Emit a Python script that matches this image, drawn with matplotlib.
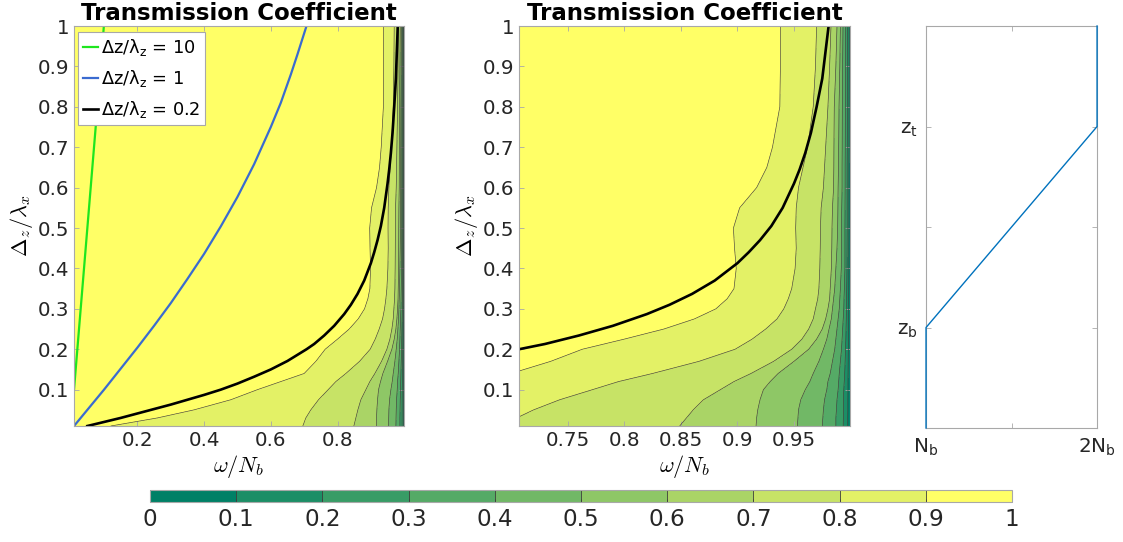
import matplotlib.pyplot as plt
import numpy as np
from matplotlib.colors import ListedColormap

plt.rcParams['font.family'] = ['DejaVu Sans']
plt.rcParams['mathtext.fontset'] = 'cm'

# transmission coefficient, read off the picture as the omega/N_b position
# where each contour level crosses a given Delta_z/lambda_x row
rows_y = [0.01, 0.03, 0.05, 0.075, 0.1, 0.12, 0.14, 0.17, 0.2, 0.225, 0.25, 0.275, 0.3, 0.325,
          0.35, 0.4, 0.45, 0.5, 0.55, 0.6, 0.65, 0.7, 0.8, 0.9, 1.0]
t90 = [0.12, 0.26, 0.37, 0.48, 0.56, 0.63, 0.70, 0.735, 0.763, 0.80, 0.835, 0.862, 0.881, 0.891,
       0.897, 0.899, 0.8975, 0.8965, 0.902, 0.917, 0.926, 0.931, 0.9375, 0.938, 0.938]
t80 = [0.696, 0.705, 0.72, 0.743, 0.772, 0.795, 0.825, 0.866, 0.898, 0.913, 0.925, 0.935, 0.941, 0.945,
       0.948, 0.951, 0.952, 0.9515, 0.952, 0.954, 0.958, 0.962, 0.967, 0.969, 0.970]
t70 = [0.849, 0.855, 0.861, 0.870, 0.885, 0.897, 0.912, 0.932, 0.948, 0.957, 0.963, 0.967, 0.969, 0.971,
       0.972, 0.9728, 0.9732, 0.9734, 0.974, 0.976, 0.977, 0.978, 0.980, 0.9815, 0.9827]
t60 = [0.9165, 0.917, 0.918, 0.92, 0.923, 0.929, 0.936, 0.950, 0.963, 0.970, 0.975, 0.978, 0.980, 0.9815,
       0.982, 0.983, 0.9834, 0.9836, 0.984, 0.985, 0.9852, 0.9853, 0.9856, 0.987, 0.988]
t50 = [0.953, 0.9535, 0.954, 0.956, 0.960, 0.964, 0.967, 0.972, 0.976, 0.979, 0.981, 0.983, 0.984, 0.985,
       0.986, 0.987, 0.988, 0.9886, 0.9888, 0.989, 0.9893, 0.9895, 0.9898, 0.9905, 0.991]
t40 = [0.975, 0.9755, 0.976, 0.977, 0.979, 0.980, 0.982, 0.984, 0.986, 0.987, 0.988, 0.989, 0.990, 0.9905,
       0.991, 0.9918, 0.9919, 0.992, 0.9922, 0.9925, 0.9925, 0.9926, 0.9927, 0.993, 0.9933]
t30 = [0.987, 0.987, 0.9875, 0.988, 0.989, 0.9895, 0.990, 0.991, 0.992, 0.9925, 0.993, 0.9935, 0.994, 0.9942,
       0.9945, 0.995, 0.995, 0.995, 0.9951, 0.9952, 0.9952, 0.9953, 0.9954, 0.9955, 0.9956]
t20 = [0.9935, 0.9936, 0.9937, 0.9938, 0.994, 0.9944, 0.9948, 0.9952, 0.9955, 0.9958, 0.996, 0.9962, 0.9963,
       0.9965, 0.9966, 0.9968, 0.9969, 0.997, 0.997, 0.997, 0.997, 0.9971, 0.9972, 0.9973, 0.9974]
t10 = [0.9975, 0.9975, 0.9976, 0.9976, 0.9977, 0.9977, 0.9978, 0.9979, 0.998, 0.9981, 0.9982, 0.9982, 0.9983,
       0.9983, 0.9984, 0.9985, 0.9985, 0.9986, 0.9986, 0.9986, 0.9986, 0.9987, 0.9987, 0.9988, 0.9988]
edge_lo, edge_hi = 0.0, 1.0
node_T = [1.0, 0.9, 0.8, 0.7, 0.6, 0.5, 0.4, 0.3, 0.2, 0.1, 0.0]
levels = [0, 0.1, 0.2, 0.3, 0.4, 0.5, 0.6, 0.7, 0.8, 0.9, 1.0]

# constant Delta z / lambda_z curves
green_w = [0.01, 0.02, 0.03, 0.04, 0.05, 0.06, 0.07, 0.08, 0.09, 0.0995]
green_y = [0.10, 0.20, 0.30, 0.40, 0.50, 0.60, 0.70, 0.80, 0.90, 1.00]
blue_w = [0.01, 0.05, 0.1, 0.15, 0.2, 0.25, 0.3, 0.35, 0.4, 0.45, 0.5, 0.55, 0.6, 0.63, 0.66, 0.68, 0.707]
blue_y = [0.01, 0.05, 0.10, 0.152, 0.204, 0.258, 0.314, 0.374, 0.436, 0.504, 0.577, 0.658, 0.75, 0.81,
          0.88, 0.93, 1.0]
black_w = [0.05, 0.1, 0.15, 0.2, 0.25, 0.3, 0.35, 0.4, 0.45, 0.5, 0.55, 0.6, 0.65, 0.7071, 0.73, 0.76,
           0.79, 0.82, 0.84, 0.86, 0.88, 0.9, 0.91, 0.92, 0.93, 0.94, 0.95, 0.955, 0.96, 0.965, 0.97,
           0.975, 0.9806]
black_y = [0.01, 0.02, 0.03, 0.041, 0.052, 0.063, 0.075, 0.087, 0.1, 0.115, 0.132, 0.15, 0.171, 0.2,
           0.213, 0.234, 0.258, 0.287, 0.31, 0.337, 0.37, 0.413, 0.44, 0.47, 0.505, 0.55, 0.61, 0.645,
           0.686, 0.736, 0.8, 0.87, 1.0]

# stratification profile
prof_N = [1, 1, 2, 2]
prof_z = [0, 1, 3, 4]

cols = [np.full(len(rows_y), edge_lo), t90, t80, t70, t60, t50, t40, t30, t20, t10,
        np.full(len(rows_y), edge_hi)]
X = np.column_stack(cols)
Y = np.tile(np.array(rows_y)[:, None], (1, X.shape[1]))
Z = np.tile(np.array(node_T), (len(rows_y), 1))

cmap = ListedColormap(plt.get_cmap('summer')(np.linspace(0, 1, 10)))
grey = '#a8a8a8'
txt = '#262626'

fig = plt.figure(figsize=(11.23, 5.42), dpi=100)
ax1 = fig.add_axes([0.0659, 0.214, 0.2939, 0.738])
ax2 = fig.add_axes([0.4622, 0.214, 0.2947, 0.738])
ax3 = fig.add_axes([0.8246, 0.2103, 0.1523, 0.7417])
cax = fig.add_axes([0.1336, 0.0738, 0.7676, 0.0221])


def style(ax):
    for s in ax.spines.values():
        s.set_color(grey)
        s.set_linewidth(0.8)
    ax.tick_params(direction='in', length=3.5, width=0.6, color=grey, top=True, right=True,
                   labelsize=14.3, labelcolor=txt)


for ax in (ax1, ax2):
    cf = ax.contourf(X, Y, Z, levels=levels, cmap=cmap, vmin=0, vmax=1)
    ax.contour(X, Y, Z, levels=levels[1:-1], colors='#3c3c3c', linewidths=0.45)
    ax.plot(black_w, black_y, color='k', lw=1.9, label=r'Δz/$\mathregular{λ_z}$ = 0.2')
    ax.set_ylim(0.01, 1)
    ax.set_yticks([0.1, 0.2, 0.3, 0.4, 0.5, 0.6, 0.7, 0.8, 0.9, 1.0])
    ax.set_yticklabels(['0.1', '0.2', '0.3', '0.4', '0.5', '0.6', '0.7', '0.8', '0.9', '1'])
    ax.set_title('Transmission Coefficient', fontsize=16.5, fontweight='bold', pad=4)
    ax.set_xlabel(r'$\omega/N_b$', fontsize=16, labelpad=2)
    ax.set_ylabel(r'$\Delta_z/\lambda_x$', fontsize=16, labelpad=2)
    style(ax)

g, = ax1.plot(green_w, green_y, color='#1ee61e', lw=1.6, label=r'Δz/$\mathregular{λ_z}$ = 10')
b, = ax1.plot(blue_w, blue_y, color='#3a6bd0', lw=1.6, label=r'Δz/$\mathregular{λ_z}$ = 1')
k = ax1.get_lines()[0]
ax1.set_xlim(0.01, 0.9995)
ax1.set_xticks([0.2, 0.4, 0.6, 0.8])
ax1.set_xticklabels(['0.2', '0.4', '0.6', '0.8'])
leg = ax1.legend(handles=[g, b, k], loc='upper left', bbox_to_anchor=(0.012, 0.985), borderaxespad=0,
                 fontsize=12.8, handlelength=0.8, handletextpad=0.2, borderpad=0.3, labelspacing=0.55,
                 fancybox=False, framealpha=1)
leg.get_frame().set_edgecolor(grey)
leg.get_frame().set_linewidth(0.8)

ax2.set_xlim(0.7071, 0.9995)
ax2.set_xticks([0.75, 0.8, 0.85, 0.9, 0.95])
ax2.set_xticklabels(['0.75', '0.8', '0.85', '0.9', '0.95'])

ax3.plot(prof_N, prof_z, color='#0072BD', lw=1.0, clip_on=False, zorder=5)
ax3.set_xlim(1, 2)
ax3.set_ylim(0, 4)
ax3.set_xticks([1, 1.5, 2])
ax3.set_xticklabels([r'$\mathregular{N_b}$', '', r'$\mathregular{2N_b}$'])
ax3.set_yticks([1, 2, 3])
ax3.set_yticklabels([r'$\mathregular{z_b}$', '', r'$\mathregular{z_t}$'])
style(ax3)
ax3.tick_params(pad=6)

cb = fig.colorbar(cf, cax=cax, orientation='horizontal', ticks=levels, drawedges=True)
cb.set_ticklabels(['0', '0.1', '0.2', '0.3', '0.4', '0.5', '0.6', '0.7', '0.8', '0.9', '1'])
cb.dividers.set_color('#3c3c3c')
cb.dividers.set_linewidth(0.6)
cb.outline.set_edgecolor(grey)
cb.outline.set_linewidth(0.8)
cax.tick_params(direction='in', length=2, width=0.5, color='#3c3c3c', labelsize=16.6, labelcolor=txt, pad=4)

fig.savefig('out.png', dpi=100)
